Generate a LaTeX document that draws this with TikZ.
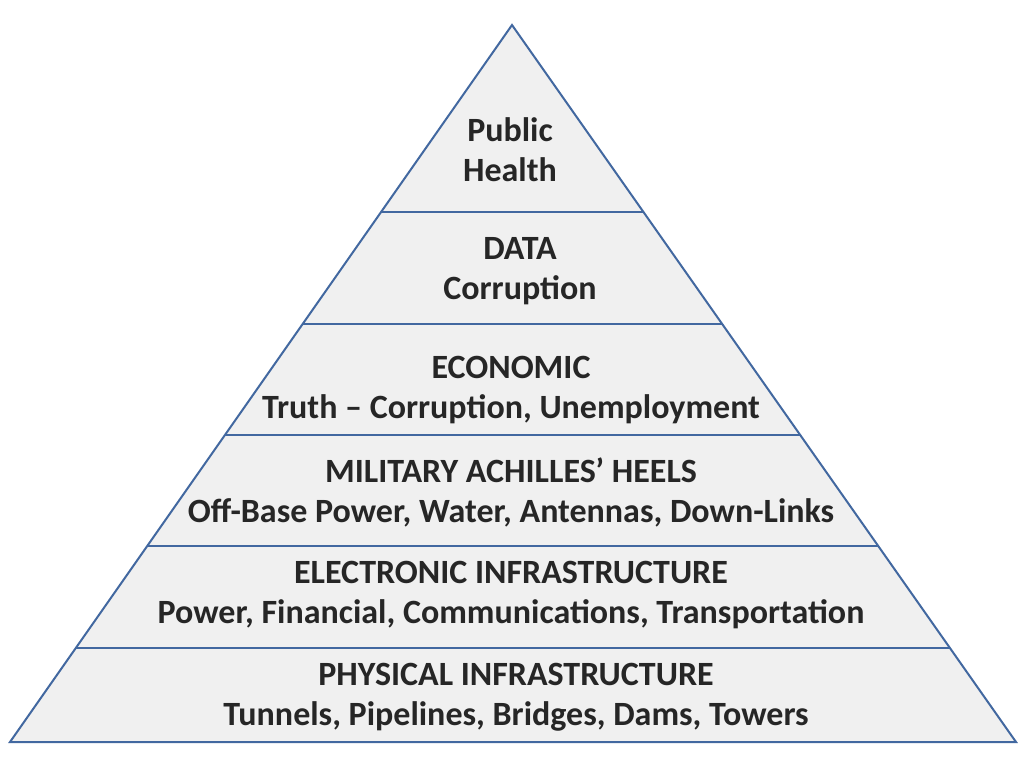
\documentclass[tikz,border=0pt]{standalone}
\usepackage{fontspec}
\setmainfont{Carlito}
\definecolor{edgeblue}{RGB}{66,104,160}
\begin{document}
\begin{tikzpicture}[x=1pt,y=-1pt,
  lbl/.style={align=center,font=\fontsize{34}{40}\selectfont\bfseries,text=black!85,inner sep=0pt},
  edge/.style={draw=edgeblue,line width=2pt}]
\useasboundingbox (0,0) rectangle (1024,768);
\coordinate (A) at (512,25);
\coordinate (L) at (10,742);
\coordinate (R) at (1016,742);
\fill[gray!12] (A) -- (L) -- (R) -- cycle;
\foreach \y in {212,324,435,546,648}{
  \draw[edge,line width=1.6pt] ({512-(\y-25)/717*502},\y) -- ({512+(\y-25)/717*504},\y);
}
\draw[edge,line join=miter] (A) -- (L) -- (R) -- cycle;
\node[lbl] (n1) at (510,150) {Public\\Health};
\node[lbl] (n2) at (520,271) {DATA\\Corruption};
\node[lbl] (n3) at (511,390) {ECONOMIC\\Truth – Corruption, Unemployment};
\node[lbl] (n4) at (511,492) {MILITARY ACHILLES’ HEELS\\Off-Base Power, Water, Antennas, Down-Links};
\node[lbl] (n5) at (511,595) {ELECTRONIC INFRASTRUCTURE\\Power, Financial, Communications, Transportation};
\node[lbl] (n6) at (516,697) {PHYSICAL INFRASTRUCTURE\\Tunnels, Pipelines, Bridges, Dams, Towers};
\end{tikzpicture}
\end{document}
